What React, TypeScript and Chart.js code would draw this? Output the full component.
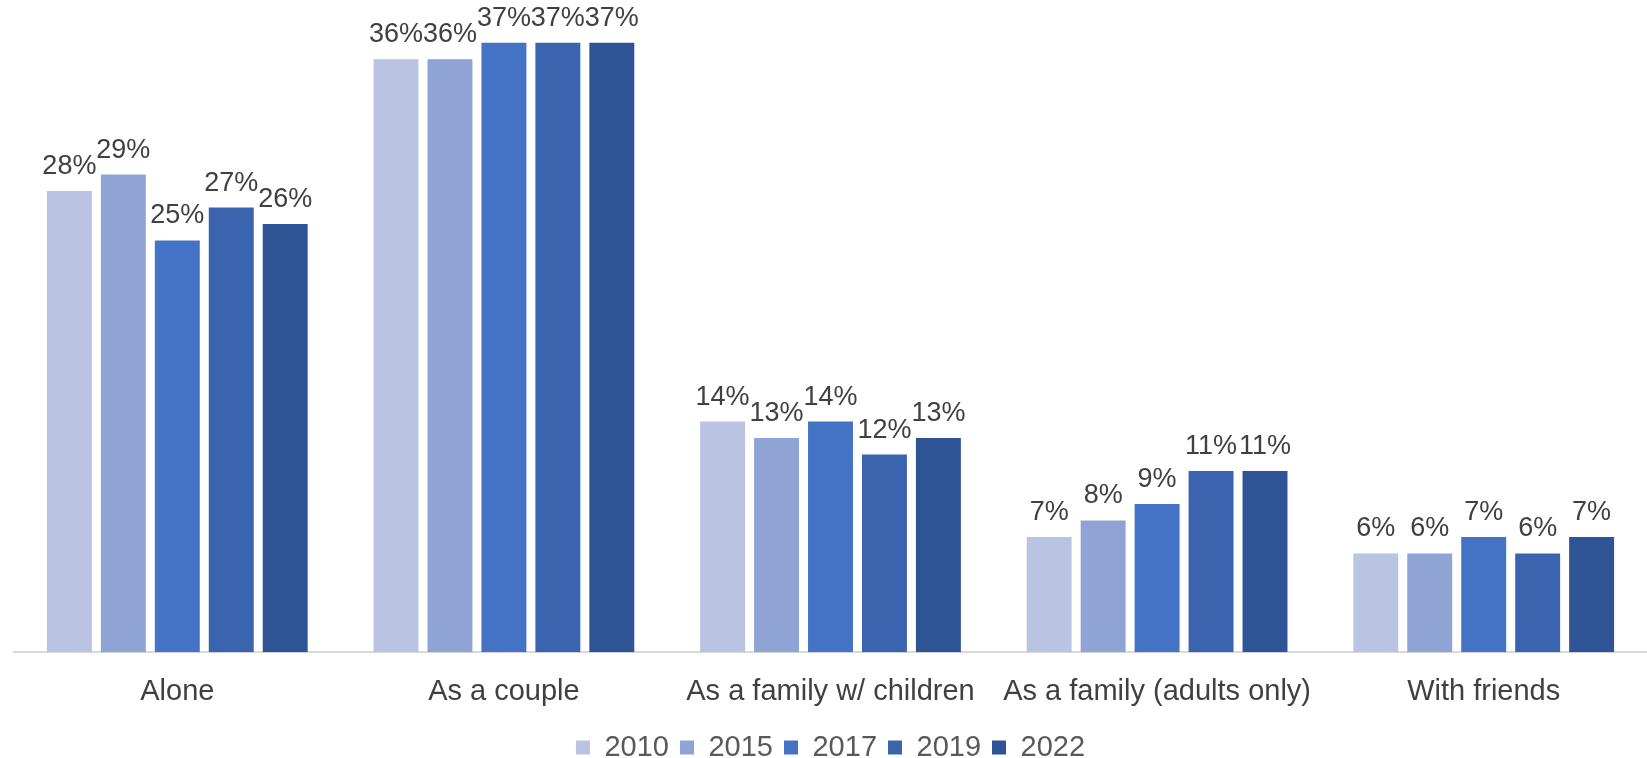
import React, { useEffect, useRef } from "react";
import { Chart, registerables } from "chart.js";

Chart.register(...registerables);

const categories = ["Alone", "As a couple", "As a family w/ children", "As a family (adults only)", "With friends"];
const years = ["2010", "2015", "2017", "2019", "2022"];
const v2010 = [28, 36, 14, 7, 6];
const v2015 = [29, 36, 13, 8, 6];
const v2017 = [25, 37, 14, 9, 7];
const v2019 = [27, 37, 12, 11, 6];
const v2022 = [26, 37, 13, 11, 7];
const colors = ["#BAC4E2", "#8FA4D4", "#4472C4", "#3A64AD", "#2F5496"];

const FONT = "'Liberation Sans', Arial, sans-serif";
const CANVAS_H = 781;
const LEGEND_SHIFT = -9;

const dataLabels = {
  id: "dataLabels",
  afterDatasetsDraw(chart: any) {
    const ctx = chart.ctx;
    ctx.save();
    ctx.font = `27px ${FONT}`;
    ctx.fillStyle = "#404040";
    ctx.textAlign = "center";
    ctx.textBaseline = "alphabetic";
    chart.data.datasets.forEach((ds: any, i: number) => {
      const meta = chart.getDatasetMeta(i);
      meta.data.forEach((bar: any, j: number) => {
        ctx.fillText(ds.data[j] + "%", bar.x, bar.y - 17);
      });
    });
    ctx.restore();
  },
};

const legendShift = {
  id: "legendShift",
  afterLayout(chart: any) {
    const l = chart.legend;
    if (l) {
      l.top += LEGEND_SHIFT;
      l.bottom += LEGEND_SHIFT;
    }
  },
};

export default function App() {
  const ref = useRef<HTMLCanvasElement>(null);
  useEffect(() => {
    const series = [v2010, v2015, v2017, v2019, v2022];
    const chart = new Chart(ref.current!, {
      type: "bar",
      data: {
        labels: categories,
        datasets: years.map((y, i) => ({
          label: y,
          data: series[i],
          backgroundColor: colors[i],
          categoryPercentage: 0.826,
          barPercentage: 0.833,
        })),
      },
      options: {
        animation: false,
        responsive: false,
        maintainAspectRatio: false,
        layout: { padding: { left: 14, right: 0, top: 0, bottom: 0 } },
        scales: {
          x: {
            grid: { display: false, drawTicks: false },
            border: { color: "#D9D9D9", width: 2 },
            ticks: { color: "#404040", font: { size: 29, family: FONT }, padding: 22, maxRotation: 0, autoSkip: false },
          },
          y: { display: false, min: 0, max: 39.6 },
        },
        plugins: {
          legend: {
            position: "bottom",
            labels: {
              color: "#595959",
              font: { size: 29, family: FONT },
              boxWidth: 14,
              boxHeight: 14,
              padding: 11,
            },
          },
          tooltip: { enabled: false },
        },
      },
      plugins: [dataLabels, legendShift],
    });
    return () => chart.destroy();
  }, []);
  return (
    <div style={{ position: "fixed", left: 0, top: 0, width: 1647, height: 758, overflow: "hidden", background: "#fff" }}>
      <canvas ref={ref} width={1647} height={CANVAS_H} style={{ display: "block", width: 1647, height: CANVAS_H }} />
    </div>
  );
}
